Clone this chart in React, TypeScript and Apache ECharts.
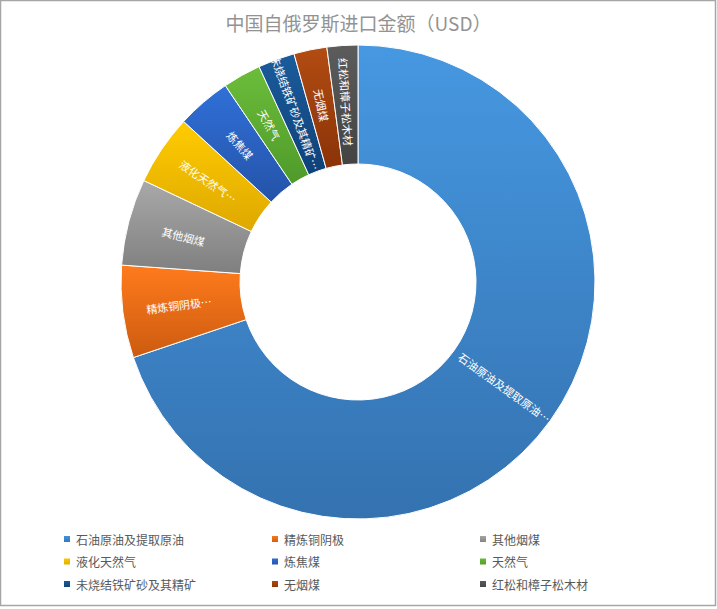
import React, { useEffect, useRef } from 'react';
import * as echarts from 'echarts';

// 进口品类及金额占比
const categories = [
  '石油原油及提取原油',
  '精炼铜阴极',
  '其他烟煤',
  '液化天然气',
  '炼焦煤',
  '天然气',
  '未烧结铁矿砂及其精矿',
  '无烟煤',
  '红松和樟子松木材',
];
const values = [69.8, 6.3, 5.9, 4.8, 3.7, 2.6, 2.5, 2.25, 2.1];
// 扇区内显示的（截断后）标签
const sliceLabels = [
  '石油原油及提取原油…',
  '精炼铜阴极…',
  '其他烟煤',
  '液化天然气…',
  '炼焦煤',
  '天然气',
  '未烧结铁矿砂及其精矿…',
  '无烟煤',
  '红松和樟子松木材',
];
// 每个扇区的上/下渐变色
const topColors = ['#4698e1', '#ff7b1c', '#a9a9a9', '#ffcc00', '#3070d8', '#6cbd3b', '#1b5c9c', '#b24c12', '#5c5c5c'];
const bottomColors = ['#3472b0', '#cc5b10', '#7f7f7f', '#dea800', '#2453a8', '#4f9a2a', '#0f4179', '#8a3308', '#434343'];

const FONT = '"Noto Sans CJK SC", "Noto Sans", sans-serif';

export default function App() {
  const chartRef = useRef<HTMLDivElement>(null);

  useEffect(() => {
    if (!chartRef.current) return;
    const chart = echarts.init(chartRef.current, undefined, { renderer: 'svg' });

    const data = categories.map((name, i) => ({
      name,
      value: values[i],
      itemStyle: {
        color: new echarts.graphic.LinearGradient(0, 0, 0, 1, [
          { offset: 0, color: topColors[i] },
          { offset: 1, color: bottomColors[i] },
        ]),
      },
    }));

    // 图例分三列，每列一个竖向图例
    const legendCol = (col: number, left: number) => ({
      orient: 'vertical' as const,
      left,
      top: 528,
      itemWidth: 8,
      itemHeight: 8,
      itemGap: 10.5,
      icon: 'rect',
      selectedMode: false,
      data: categories.filter((_, i) => i % 3 === col),
      textStyle: { fontSize: 12, color: '#595959', fontFamily: FONT },
    });

    chart.setOption({
      animation: false,
      backgroundColor: '#ffffff',
      title: {
        text: '中国自俄罗斯进口金额（USD）',
        left: 'center',
        top: 8,
        textStyle: { fontSize: 19, fontWeight: 'normal', color: '#939393', fontFamily: FONT },
      },
      legend: [legendCol(0, 57), legendCol(1, 265), legendCol(2, 473)],
      graphic: [
        {
          type: 'rect',
          shape: { x: 0.5, y: 0.5, width: 715, height: 605 },
          style: { fill: 'none', stroke: '#a6a6a6', lineWidth: 1.5 },
          silent: true,
        },
      ],
      series: [
        {
          type: 'pie',
          center: [358, 282],
          radius: [118, 237],
          startAngle: 90,
          clockwise: true,
          avoidLabelOverlap: false,
          itemStyle: { borderColor: '#ffffff', borderWidth: 1 },
          label: {
            show: true,
            position: 'inside',
            rotate: 'radial',
            color: '#ffffff',
            fontSize: 11,
            fontFamily: FONT,
            formatter: (p: any) => sliceLabels[p.dataIndex],
          },
          labelLine: { show: false },
          emphasis: { disabled: true },
          data,
        },
      ],
    });

    return () => {
      chart.dispose();
    };
  }, []);

  return (
    <div
      ref={chartRef}
      style={{ position: 'fixed', left: 0, top: 0, width: 717, height: 609 }}
    />
  );
}
